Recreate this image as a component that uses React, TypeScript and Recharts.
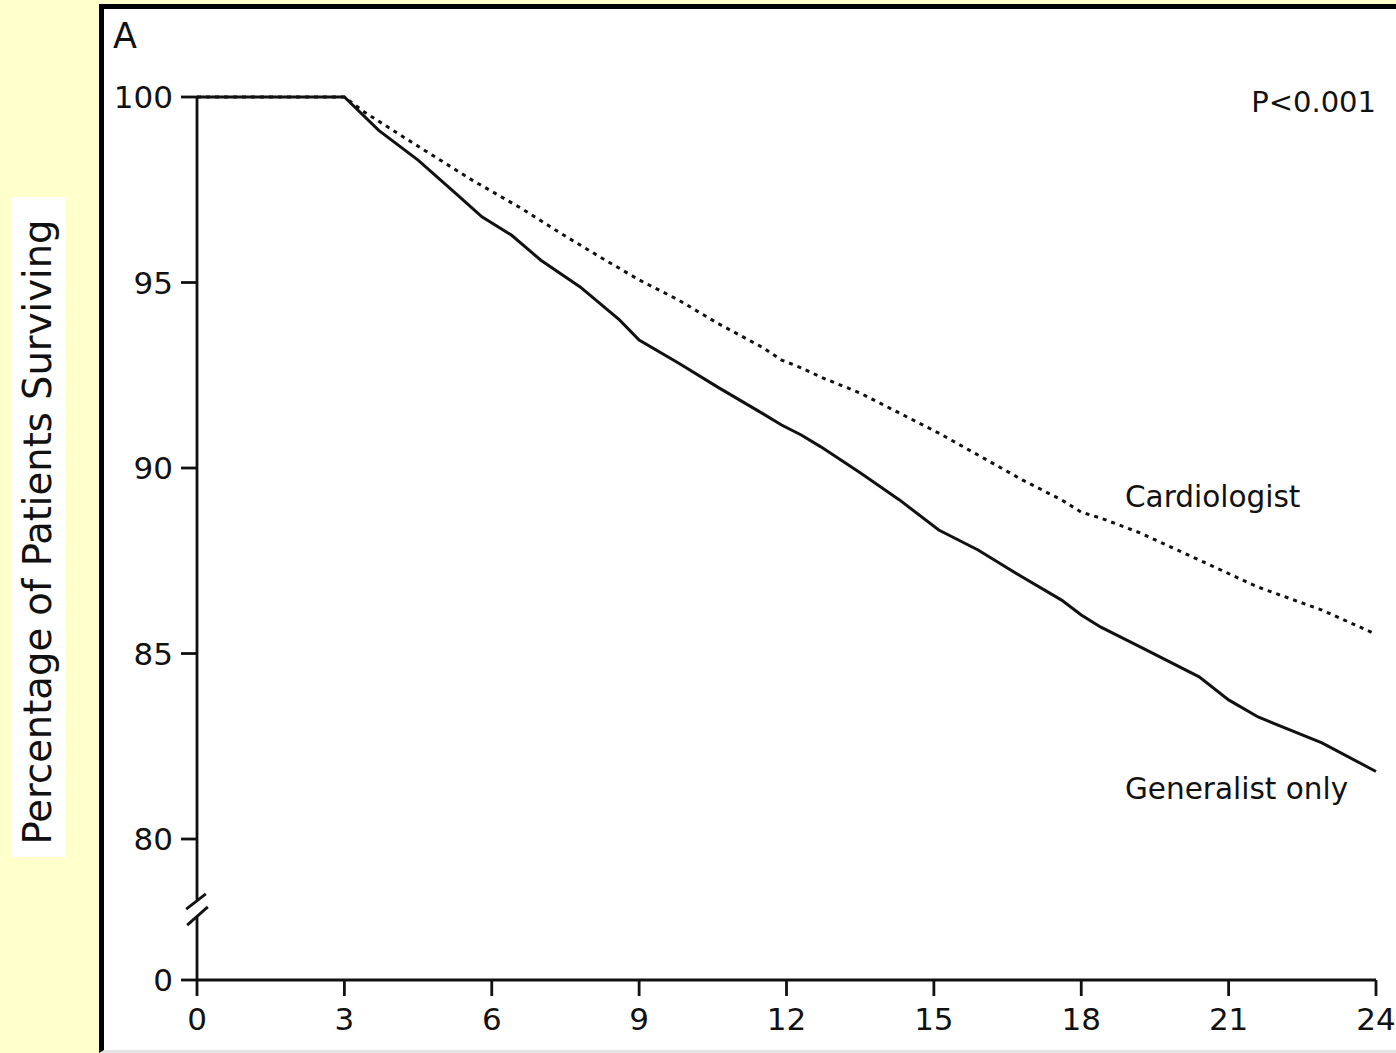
import { LineChart, Line, XAxis, YAxis, ReferenceLine } from "recharts";

// Kaplan-Meier style survival curves, months on x, % surviving on y
const generalistMonths = [0, 3, 3.7, 4.5, 5.3, 5.8, 6.4, 7.0, 7.8, 8.6, 9.0, 9.8, 10.6, 11.5, 11.9, 12.3, 12.7, 13.5, 14.3, 15.1, 15.9, 16.8, 17.6, 18.0, 18.4, 19.2, 20.4, 21.0, 21.6, 22.9, 24];
const generalistPct = [100, 100, 99.1, 98.3, 97.36, 96.77, 96.28, 95.6, 94.88, 93.99, 93.45, 92.83, 92.18, 91.48, 91.16, 90.89, 90.57, 89.87, 89.14, 88.33, 87.79, 87.06, 86.44, 86.04, 85.71, 85.18, 84.37, 83.75, 83.29, 82.59, 81.82];

const cardiologistMonths = [0, 3, 3.4, 4.3, 5.6, 6.6, 7.4, 8.2, 9.0, 9.8, 10.6, 11.5, 11.9, 12.3, 12.7, 13.5, 14.3, 15.1, 15.9, 16.8, 17.6, 18.0, 18.4, 19.2, 20.4, 21.6, 22.9, 24];
const cardiologistPct = [100, 100, 99.6, 98.84, 97.76, 97.0, 96.33, 95.69, 95.07, 94.53, 93.9, 93.26, 92.91, 92.7, 92.45, 92.02, 91.48, 90.94, 90.35, 89.68, 89.14, 88.81, 88.65, 88.25, 87.52, 86.79, 86.17, 85.52];

const xTicks = [0, 3, 6, 9, 12, 15, 18, 21, 24];
const yTicks = [80, 85, 90, 95, 100];

// broken axis: "0" is drawn just below the 80 line
const Y_ZERO = 76.2;
const BREAK_LO = 77.92;
const BREAK_HI = 78.36;

const generalist = generalistMonths.map((m, i) => ({ month: m, pct: generalistPct[i] }));
const cardiologist = cardiologistMonths.map((m, i) => ({ month: m, pct: cardiologistPct[i] }));

const FONT = "'DejaVu Sans', sans-serif";
const INK = "#111";

export default function App() {
  return (
    <div
      style={{
        position: "absolute",
        left: 0,
        top: 0,
        width: 1396,
        height: 1053,
        background: "#FFFFCC",
        overflow: "hidden",
        fontFamily: FONT,
      }}
    >
      {/* white panel with the heavy black frame on top/left */}
      <div
        style={{
          position: "absolute",
          left: 99,
          top: 4,
          width: 1297,
          height: 1049,
          boxSizing: "border-box",
          background: "#fff",
          borderLeft: "5px solid #000",
          borderTop: "5px solid #000",
          borderBottom: "3px solid #e4e4e4",
        }}
      />
      {/* y label on its own white strip */}
      <div
        style={{
          position: "absolute",
          left: 12,
          top: 197,
          width: 54,
          height: 660,
          background: "#fff",
        }}
      />
      <div style={{ position: "absolute", left: 0, top: 0 }}>
        <LineChart
          width={1396}
          height={1053}
          margin={{ top: 97, right: 20, bottom: 0, left: 0 }}
        >
          <XAxis
            type="number"
            dataKey="month"
            domain={[0, 24]}
            ticks={xTicks}
            height={73}
            tickSize={16}
            tickMargin={12}
            axisLine={{ stroke: INK, strokeWidth: 2.8 }}
            tickLine={{ stroke: INK, strokeWidth: 2.8 }}
            tick={{ fontSize: 31, fill: INK, fontFamily: FONT }}
          />
          <YAxis
            type="number"
            domain={[Y_ZERO, 100]}
            ticks={[Y_ZERO, ...yTicks]}
            width={197}
            tickSize={16}
            tickMargin={8}
            axisLine={false}
            tickLine={{ stroke: INK, strokeWidth: 2.8 }}
            tick={{ fontSize: 31, fill: INK, fontFamily: FONT }}
            tickFormatter={(v: number) => (v === Y_ZERO ? "0" : String(v))}
          />
          <ReferenceLine
            segment={[{ x: 0, y: BREAK_HI }, { x: 0, y: 100 }]}
            stroke={INK}
            strokeWidth={2.8}
            ifOverflow="visible"
          />
          <ReferenceLine
            segment={[{ x: 0, y: Y_ZERO }, { x: 0, y: BREAK_LO }]}
            stroke={INK}
            strokeWidth={2.8}
            ifOverflow="visible"
          />
          <ReferenceLine
            segment={[{ x: -0.22, y: 78.11 }, { x: 0.18, y: 78.52 }]}
            stroke={INK}
            strokeWidth={2.8}
            ifOverflow="visible"
          />
          <ReferenceLine
            segment={[{ x: -0.2, y: 77.68 }, { x: 0.22, y: 78.17 }]}
            stroke={INK}
            strokeWidth={2.8}
            ifOverflow="visible"
          />
          <Line
            data={generalist}
            dataKey="pct"
            type="linear"
            stroke={INK}
            strokeWidth={3}
            dot={false}
            isAnimationActive={false}
          />
          <Line
            data={cardiologist}
            dataKey="pct"
            type="linear"
            stroke={INK}
            strokeWidth={3}
            strokeDasharray="4 5"
            dot={false}
            isAnimationActive={false}
          />
        </LineChart>
      </div>
      <svg
        width={1396}
        height={1053}
        style={{ position: "absolute", left: 0, top: 0, pointerEvents: "none" }}
        fontFamily={FONT}
        fill={INK}
      >
        <text x={113} y={48} fontSize={35}>A</text>
        <text x={1376} y={112} fontSize={29} textAnchor="end">P&lt;0.001</text>
        <text x={1125} y={507} fontSize={29.5}>Cardiologist</text>
        <text x={1125} y={799} fontSize={29.5}>Generalist only</text>
        <text
          x={0}
          y={0}
          fontSize={38.5}
          textAnchor="middle"
          transform="translate(51 532) rotate(-90)"
        >
          Percentage of Patients Surviving
        </text>
      </svg>
    </div>
  );
}
